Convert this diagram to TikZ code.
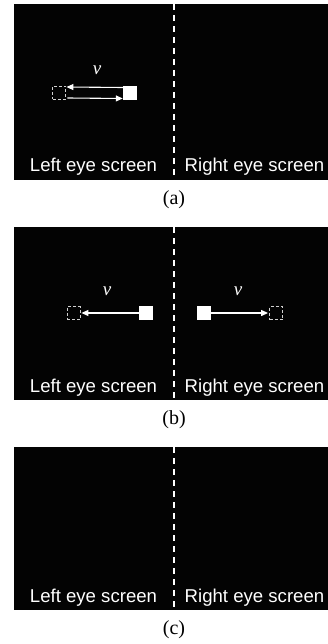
\documentclass[tikz,border=0pt]{standalone}
\usepackage{fontspec}
\setmainfont{Liberation Serif}
\newfontfamily\screenfont{Liberation Sans}
\usetikzlibrary{arrows.meta, positioning}
\definecolor{ScreenBlack}{HTML}{030303}
\definecolor{GhostGray}{HTML}{D0D0D0}
\tikzset{
  screen/.style={fill=ScreenBlack},
  divider/.style={draw=white, line width=1.5pt, dash pattern=on 6pt off 5pt},
  scrtext/.style={font=\screenfont\fontsize{18.6}{20}\selectfont, text=white,
                  anchor=base, inner sep=0pt},
  caption/.style={font=\fontsize{20}{22}\selectfont, text=black},
  vlab/.style={font=\itshape\fontsize{19}{20}\selectfont, text=white,
               inner sep=0pt},
  target/.style={fill=white, minimum size=14pt, inner sep=0pt},
  ghost/.style={draw=GhostGray, line width=0.8pt, dash pattern=on 3pt off 2pt,
                minimum size=13pt, inner sep=0pt},
  mvarrow/.style={-{Triangle[length=7pt, width=6pt]}, draw=white,
                  line width=1.1pt},
}
\begin{document}
\begin{tikzpicture}[x=1pt, y=-1pt]
  \useasboundingbox (0,0) rectangle (328,644);
  % the three screen pairs
  \foreach \top/\bot/\lab in {4/180/a, 227/400/b, 447/610/c} {
    \fill[screen] (14,\top) rectangle (328,\bot);
    \draw[divider] (174,\top) -- (174,\bot);
    \node[scrtext] (left-\lab) at (93.5,\bot-8) {Left eye screen};
    \node[scrtext] (right-\lab) at (254.5,\bot-8) {Right eye screen};
    \node[caption] (cap-\lab) at (174,\bot+20) {(\lab)};
  }
  % (a) target moves and returns
  \node[ghost] (ghostA) at (59,92.5) {};
  \node[target] (targetA) at (130,93) {};
  \node[vlab] (vA) at (97,70) {v};
  \draw[mvarrow] ([yshift=5.5pt]targetA.west) -- ([yshift=5.5pt,xshift=0.5pt]ghostA.east);
  \draw[mvarrow] ([yshift=-5.5pt,xshift=1.5pt]ghostA.east) -- ([yshift=-5.5pt]targetA.west);
  % (b) targets move apart
  \node[ghost] (ghostBL) at (73.5,313) {};
  \node[target] (targetBL) at (146,313) {};
  \node[target] (targetBR) at (204,313) {};
  \node[ghost] (ghostBR) at (276,313) {};
  \node[vlab] (vBL) at (107,291) {v};
  \node[vlab] (vBR) at (238,291) {v};
  \draw[mvarrow] (targetBL.west) -- ([xshift=1pt]ghostBL.east);
  \draw[mvarrow] (targetBR.east) -- ([xshift=-1pt]ghostBR.west);
\end{tikzpicture}
\end{document}
